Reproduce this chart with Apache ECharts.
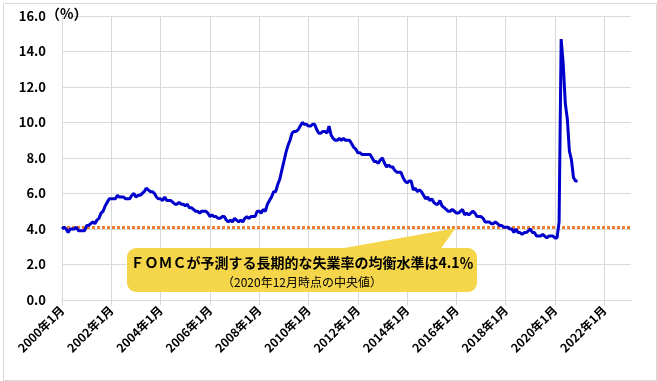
<!DOCTYPE html>
<html>
<head>
<meta charset="utf-8">
<script src="https://cdn.jsdelivr.net/npm/echarts@6/dist/echarts.min.js"></script>
<style>
html,body{margin:0;padding:0;background:#fff;}
#chart{width:657px;height:381px;}
</style>
</head>
<body>
<div id="chart"></div>
<script>
// Monthly US unemployment rate (%), Jan 2000 - Dec 2020
const rate2000s = [
  4.0,4.1,4.0,3.8,4.0,4.0,4.0,4.1,3.9,3.9,3.9,3.9,
  4.2,4.2,4.3,4.4,4.3,4.5,4.6,4.9,5.0,5.3,5.5,5.7,
  5.7,5.7,5.7,5.9,5.8,5.8,5.8,5.7,5.7,5.7,5.9,6.0,
  5.8,5.9,5.9,6.0,6.1,6.3,6.2,6.1,6.1,6.0,5.8,5.7,
  5.7,5.6,5.8,5.6,5.6,5.6,5.5,5.4,5.4,5.5,5.4,5.4,
  5.3,5.4,5.2,5.2,5.1,5.0,5.0,4.9,5.0,5.0,5.0,4.9,
  4.7,4.8,4.7,4.7,4.6,4.6,4.7,4.7,4.5,4.4,4.5,4.4,
  4.6,4.5,4.4,4.5,4.4,4.6,4.7,4.6,4.7,4.7,4.7,5.0,
  5.0,4.9,5.1,5.0,5.4,5.6,5.8,6.1,6.1,6.5,6.8,7.3,
  7.8,8.3,8.7,9.0,9.4,9.5,9.5,9.6,9.8,10.0,9.9,9.9
];
const rate2010s = [
  9.8,9.8,9.9,9.9,9.6,9.4,9.4,9.5,9.5,9.4,9.8,9.3,
  9.1,9.0,9.0,9.1,9.0,9.1,9.0,9.0,9.0,8.8,8.6,8.5,
  8.3,8.3,8.2,8.2,8.2,8.2,8.2,8.0,7.8,7.8,7.7,7.9,
  8.0,7.7,7.5,7.6,7.5,7.5,7.3,7.2,7.2,7.2,6.9,6.7,
  6.6,6.7,6.7,6.2,6.3,6.1,6.2,6.1,5.9,5.7,5.8,5.6,
  5.7,5.5,5.4,5.4,5.6,5.3,5.2,5.1,5.0,5.0,5.1,5.0,
  4.9,4.9,5.0,5.1,4.8,4.9,4.8,4.9,5.0,4.9,4.7,4.7,
  4.7,4.6,4.4,4.4,4.4,4.3,4.3,4.4,4.3,4.2,4.2,4.1,
  4.1,4.1,4.0,4.0,3.8,4.0,3.8,3.8,3.7,3.8,3.8,3.9,
  4.0,3.8,3.8,3.6,3.6,3.6,3.7,3.6,3.5,3.6,3.6,3.6
];
const rate2020 = [3.5,3.5,4.4,14.7,13.3,11.1,10.2,8.4,7.9,6.9,6.7,6.7];
const unemploymentRate = rate2000s.concat(rate2010s, rate2020);

const equilibriumRate = 4.1;
const calloutLine1 = 'ＦＯＭＣが予測する長期的な失業率の均衡水準は4.1％';
const calloutLine2 = '（2020年12月時点の中央値）';
const yUnitLabel = '（%）';

// axis categories: Jan 2000 .. Feb 2023 (monthly)
const startYear = 2000;
const monthCount = 278;
const months = [];
for (let i = 0; i < monthCount; i++) {
  months.push((startYear + Math.floor(i / 12)) + '年' + (i % 12 + 1) + '月');
}
const labelEvery = 24;

const FONT = '"Noto Sans CJK JP", "Noto Sans", sans-serif';
const chart = echarts.init(document.getElementById('chart'));

chart.setOption({
  animation: false,
  backgroundColor: '#ffffff',
  grid: {left: 62, right: 26, top: 16, bottom: 81, containLabel: false},
  xAxis: {
    type: 'category',
    data: months,
    boundaryGap: false,
    axisLine: {show: true, lineStyle: {color: '#d9d9d9', width: 1}},
    axisTick: {show: true, length: 5, interval: (i) => i % labelEvery === 0, lineStyle: {color: '#d9d9d9'}},
    splitLine: {show: true, interval: (i) => i % labelEvery === 0, lineStyle: {color: '#d9d9d9', width: 1}},
    axisLabel: {
      interval: (i) => i % labelEvery === 0,
      rotate: 45,
      margin: 8,
      color: '#000',
      fontWeight: 'bold',
      fontSize: 12,
      fontFamily: FONT
    }
  },
  yAxis: {
    type: 'value',
    min: 0, max: 16, interval: 2,
    axisLine: {show: false},
    axisTick: {show: false},
    splitLine: {show: true, lineStyle: {color: '#d9d9d9', width: 1}},
    axisLabel: {
      formatter: (v) => v.toFixed(1),
      color: '#000',
      fontWeight: 'bold',
      fontSize: 13,
      margin: 16,
      fontFamily: FONT
    }
  },
  series: [{
    type: 'line',
    data: unemploymentRate,
    showSymbol: false,
    symbol: 'none',
    lineStyle: {color: '#0000CC', width: 3},
    z: 3,
    markLine: {
      silent: true,
      symbol: ['none', 'none'],
      label: {show: false},
      lineStyle: {color: '#ED7D31', width: 3, type: [3, 2], opacity: 1},
      data: [{yAxis: equilibriumRate}],
      z: 2
    }
  }]
});

// Callout anchored to the equilibrium line
const tip = chart.convertToPixel({gridIndex: 0}, [190, equilibriumRate]);
const boxL = 127, boxT = 248, boxW = 350, boxH = 44;
chart.setOption({
  graphic: [
    {type: 'rect', left: 1, top: 1, shape: {width: 653, height: 377}, style: {fill: 'none', stroke: '#d9d9d9', lineWidth: 1}, z: 0, silent: true},
    {type: 'text', left: 46, top: 7, style: {text: yUnitLabel, font: 'bold 14px ' + FONT, fill: '#000'}},
    {type: 'polygon', shape: {points: [[333, boxT + 2], [tip[0] + 3, tip[1] + 1], [440, boxT + 2]]}, style: {fill: '#F5D54A'}, z: 10},
    {type: 'rect', shape: {x: boxL, y: boxT, width: boxW, height: boxH, r: 9}, style: {fill: '#F5D54A'}, z: 10},
    {type: 'text', style: {x: boxL + boxW / 2, y: boxT + 15, text: calloutLine1, font: 'bold 14px ' + FONT, fill: '#000', align: 'center', verticalAlign: 'middle'}, z: 11},
    {type: 'text', style: {x: boxL + boxW / 2, y: boxT + 34, text: calloutLine2, font: '12px ' + FONT, fill: '#000', align: 'center', verticalAlign: 'middle'}, z: 11}
  ]
});
</script>
</body>
</html>
